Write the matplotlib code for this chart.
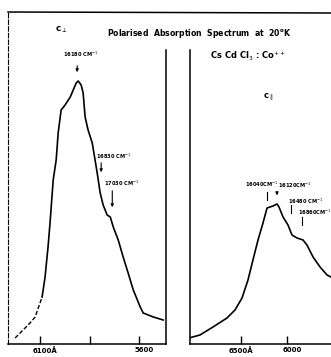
import matplotlib
matplotlib.use('Agg')
import matplotlib.pyplot as plt
import matplotlib.transforms as mtransforms
from matplotlib.lines import Line2D

# c-perpendicular spectrum (wavelength in Angstrom, absorbance arb. units)
perp_wl = [6226, 6151, 6125, 6090, 6075, 6060, 6050, 6034, 6019, 6009, 5994,
           5974, 5948, 5933, 5918, 5908, 5893, 5883, 5873, 5858, 5837, 5812,
           5797, 5782, 5762, 5746, 5731, 5706, 5681, 5656, 5630, 5595, 5580,
           5529, 5479]
perp_abs = [0.06, 0.21, 0.27, 0.47, 0.67, 0.97, 1.21, 1.64, 1.84, 2.11, 2.34,
            2.39, 2.47, 2.54, 2.61, 2.63, 2.59, 2.51, 2.27, 2.14, 2.01, 1.71,
            1.51, 1.39, 1.29, 1.27, 1.17, 1.04, 0.87, 0.71, 0.54, 0.37, 0.31,
            0.27, 0.24]

# c-parallel spectrum
par_wl = [7065, 6946, 6804, 6652, 6565, 6489, 6424, 6370, 6315, 6261, 6217,
          6185, 6152, 6109, 6087, 6043, 5989, 5946, 5891, 5826, 5783, 5717,
          5641, 5565, 5522]
par_abs = [0.06, 0.09, 0.17, 0.26, 0.34, 0.46, 0.64, 0.84, 1.04, 1.21, 1.36,
           1.37, 1.38, 1.40, 1.37, 1.27, 1.19, 1.09, 1.06, 1.04, 0.99, 0.87,
           0.77, 0.69, 0.67]

perp_ticks = [6100, 5850, 5600]
perp_ticklabels = ['6100Å', '', '5600']
par_ticks = [6500, 6000]
par_ticklabels = ['6500Å', '6000']

# label, marker wl, text left wl, text y, marker top, marker bottom, arrow
perp_marks = [
    ('16180 CM$^{-1}$', 5913, 5984, 2.90, 2.81, 2.69, True),
    ('16830 CM$^{-1}$', 5792, 5817, 1.88, 1.84, 1.69, True),
    ('17030 CM$^{-1}$', 5736, 5777, 1.61, 1.56, 1.34, True),
]
par_marks = [
    ('16040CM$^{-1}$', 6217, 6457, 1.60, 1.52, 1.44, False),
    ('16120CM$^{-1}$', 6109, 6098, 1.59, 1.54, 1.46, True),
    ('16480 CM$^{-1}$', 5957, 5989, 1.43, 1.39, 1.31, False),
    ('16860CM$^{-1}$', 5837, 5880, 1.32, 1.27, 1.19, False),
]

W, H = 331, 357
fig = plt.figure(figsize=(W / 100, H / 100), dpi=100)
fs = 5
mfs = 3.7


def px(x0, y0, x1, y1):
    return [x0 / W, 1 - y1 / H, (x1 - x0) / W, (y1 - y0) / H]


def style(ax, ticks, labels):
    ax.set_xticks(ticks)
    ax.set_xticklabels(labels, fontsize=fs, fontweight='bold')
    ax.set_yticks([])
    ax.tick_params(axis='x', direction='in', length=6, width=1, pad=2)
    ax.spines['top'].set_visible(False)
    for s in ax.spines.values():
        s.set_linewidth(1.1)


def marks(ax, items):
    for label, wl, tx, ty, y0, y1, arrow in items:
        ax.text(tx, ty, label, fontsize=mfs, fontweight='bold', ha='left',
                va='center')
        if arrow:
            ax.annotate('', xy=(wl, y1), xytext=(wl, y0),
                        arrowprops=dict(arrowstyle='-|>', lw=0.8,
                                        mutation_scale=4, color='black'))
        else:
            ax.plot([wl, wl], [y0, y1], color='black', lw=0.8)


# left panel: c perpendicular
ax1 = fig.add_axes(px(8, 12, 166, 344))
ax1.plot(perp_wl[:4], perp_abs[:4], color='black', lw=1.0, ls=(0, (3, 1.5)))
ax1.plot(perp_wl[3:], perp_abs[3:], color='black', lw=1.2)
ax1.set_xlim(6262, 5465)
ax1.set_ylim(0, 3.32)
style(ax1, perp_ticks, perp_ticklabels)
ax1.spines['left'].set_linestyle((0, (4, 2)))
ax1.spines['left'].set_linewidth(0.8)
ax1.spines['right'].set_bounds(0, 2.94)
shift = mtransforms.ScaledTranslation(5 / 100, 0, fig.dpi_scale_trans)
for lab in ax1.get_xticklabels():
    lab.set_transform(lab.get_transform() + shift)
marks(ax1, perp_marks)

# right panel: c parallel
ax2 = fig.add_axes(px(190, 50, 331, 344))
ax2.plot(par_wl, par_abs, color='black', lw=1.2)
ax2.set_xlim(7054, 5522)
ax2.set_ylim(0, 2.94)
style(ax2, par_ticks, par_ticklabels)
ax2.spines['right'].set_visible(False)
labs = ax2.get_xticklabels()
labs[1].set_transform(labs[1].get_transform() + shift)
marks(ax2, par_marks)

# frame line across the top
fig.add_artist(Line2D([8 / W, 1], [1 - 12 / H, 1 - 13 / H], color='black',
                      lw=1.1, transform=fig.transFigure))

fig.text(107 / W, 1 - 34 / H, 'Polarised  Absorption  Spectrum  at  20$^{\\mathbf{o}}$K',
         fontsize=5.6, fontweight='bold', ha='left', va='center')
fig.text(55 / W, 1 - 30 / H, 'c$_{\\perp}$', fontsize=6.5, fontweight='bold',
         ha='left', va='center')
fig.text(210 / W, 1 - 56 / H, 'Cs Cd Cl$_3$ : Co$^{++}$', fontsize=6,
         fontweight='bold', ha='left', va='center')
fig.text(263 / W, 1 - 97 / H, 'c$_{\\parallel}$', fontsize=6, fontweight='bold',
         ha='left', va='center')

fig.savefig('out.png', dpi=100)
